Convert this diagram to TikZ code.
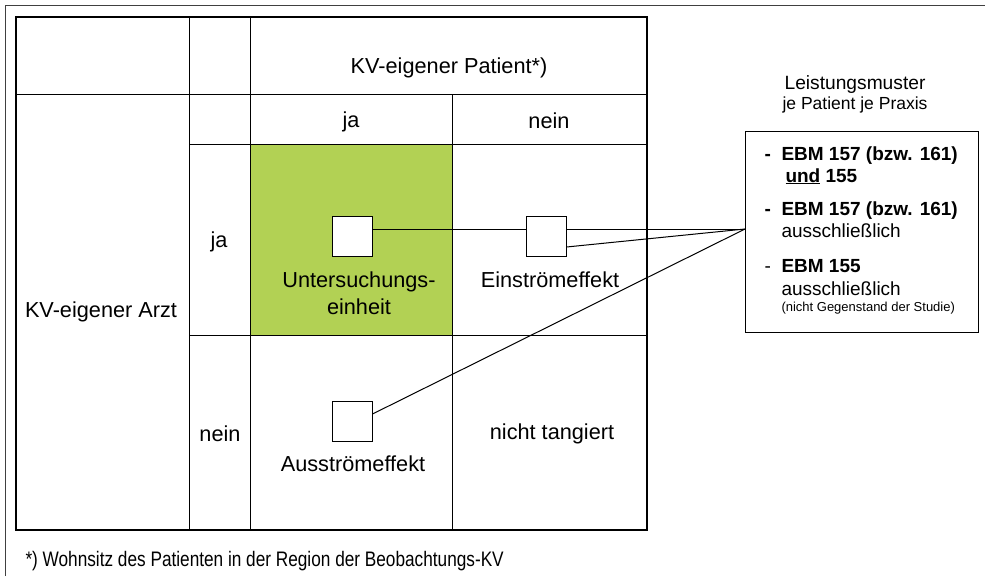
\documentclass[tikz,border=0pt]{standalone}
\usepackage{fontspec}
\setmainfont{Liberation Sans}
\newfontfamily\narrowfont[FakeStretch=0.82]{Liberation Sans}
\definecolor{feldgruen}{RGB}{178,209,84}
\tikzset{
  txt/.style={inner sep=0pt, font=\fontsize{21.7}{27}\selectfont},
  boxtxt/.style={inner sep=0pt, anchor=base west, font=\fontsize{19}{23}\selectfont},
  boldtxt/.style={boxtxt, font=\bfseries\fontsize{19}{23}\selectfont},
  quad/.style={draw=black, fill=white, minimum size=40pt, inner sep=0pt},
}
\begin{document}
\begin{tikzpicture}[x=1pt, y=-1pt, line width=1pt]
    \useasboundingbox (0,0) rectangle (985,576);
    \draw[black!75, line width=0.8pt] (5,576) -- (5,5) -- (985,5);

    \fill[feldgruen] (250,144) rectangle (452,335);
    \draw[black, line width=1.2pt] (16,17) rectangle (647,530);
    \draw[black] (16,94) -- (647,94);
    \draw[black] (189,144) -- (647,144);
    \draw[black] (189,335) -- (647,335);
    \draw[black] (189,17) -- (189,530);
    \draw[black] (250,17) -- (250,530);
    \draw[black] (452,94) -- (452,530);

    \node[txt] (patient) at (449,68) {KV-eigener Patient*)};
    \node[txt] (pja) at (351,122) {ja};
    \node[txt] (pnein) at (549,121) {nein};
    \node[txt] (arzt) at (101,312) {KV-eigener Arzt};
    \node[txt] (aja) at (219,242) {ja};
    \node[txt] (anein) at (220,434) {nein};
    \node[txt, align=center] (untersuchung) at (359,293) {Untersuchungs-\\einheit};
    \node[txt] (einstroem) at (550,280) {Einströmeffekt};
    \node[txt] (ausstroem) at (353,464) {Ausströmeffekt};
    \node[txt] (nicht) at (552,434) {nicht tangiert};

    \node[quad] (unters) at (352,236) {};
    \node[quad] (einstr) at (546,236) {};
    \node[quad] (ausstr) at (352,421) {};

    \node[txt, font=\fontsize{19.2}{23}\selectfont] (leistung) at (855,85) {Leistungsmuster};
    \node[txt, font=\fontsize{17.5}{21}\selectfont] (jepat) at (855,105) {je Patient je Praxis};
    \node[draw=black, line width=1.2pt, inner sep=0pt, minimum width=233pt, minimum height=201pt,
          anchor=north west] (muster) at (745,131) {};
    \coordinate (ziel) at (745,229);

    \node[boldtxt] (dashA) at (764,160) {-};
    \node[boldtxt] (ebmA) at (781,160) {EBM 157 (bzw. 161)};
    \node[boldtxt] (undA) at (785,182) {\underline{und} 155};
    \node[boldtxt] (dashB) at (764,215) {-};
    \node[boldtxt] (ebmB) at (781,215) {EBM 157 (bzw. 161)};
    \node[boxtxt] (ausB) at (781,237) {ausschließlich};
    \node[boxtxt] (dashC) at (764,272) {-};
    \node[boldtxt] (ebmC) at (781,272) {EBM 155};
    \node[boxtxt] (ausC) at (781,295) {ausschließlich};
    \node[boxtxt, font=\fontsize{13}{15}\selectfont] (studie) at (781,311) {(nicht Gegenstand der Studie)};

    \draw[black] ([yshift=7pt]unters.east) -- ([yshift=7pt]einstr.west);
    \draw[black] ([yshift=7pt]einstr.east) -- (ziel);
    \draw[black] ([yshift=-11pt]einstr.east) -- (ziel);
    \draw[black] ([yshift=7pt]ausstr.east) -- (ziel);

    \node[inner sep=0pt, anchor=base west, font=\narrowfont\fontsize{21}{25}\selectfont] (fussnote) at (25,566)
      {*) Wohnsitz des Patienten in der Region der Beobachtungs-KV};
\end{tikzpicture}
\end{document}
